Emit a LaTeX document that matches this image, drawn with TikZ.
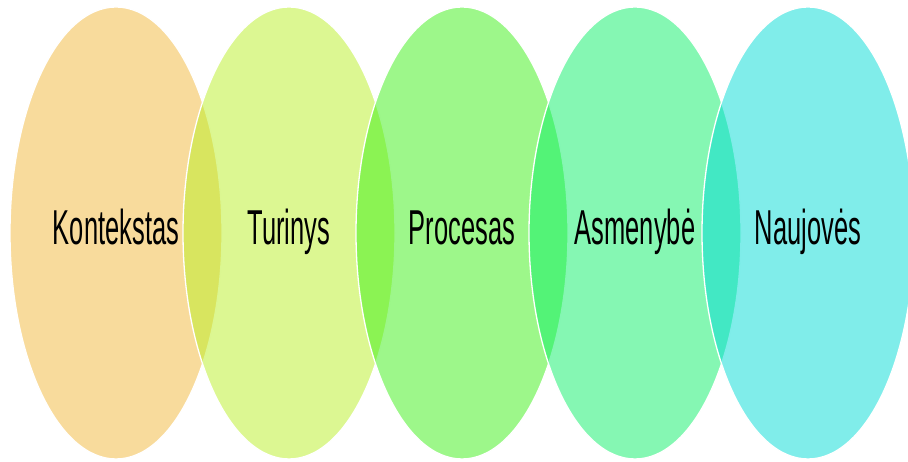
\documentclass[tikz,border=0pt]{standalone}
\usepackage{fontspec}
\usepackage{tikz}
\usetikzlibrary{shapes.geometric}
\newfontfamily\narrowsans[FakeStretch=0.52]{Liberation Sans}
\definecolor{kontcol}{RGB}{241,183,57}
\definecolor{turcol}{RGB}{185,239,37}
\definecolor{proccol}{RGB}{59,239,21}
\definecolor{asmcol}{RGB}{11,239,103}
\definecolor{naucol}{RGB}{1,219,213}
\tikzset{
  bubble/.style={ellipse, draw=white, line width=1.3pt, fill opacity=0.5, draw opacity=1,
    minimum width=212pt, minimum height=452pt, inner sep=0pt},
  lbl/.style={font=\narrowsans\fontsize{49}{49}\selectfont, text=black, anchor=base, inner sep=0pt}
}
\begin{document}
\begin{tikzpicture}[x=1pt, y=1pt]
      \useasboundingbox (0,0) rectangle (908,462);
      % Venn bubbles
      \node[bubble, fill=kontcol] (K) at (116,229) {};
      \node[bubble, fill=turcol] (T) at (289,229) {};
      \node[bubble, fill=proccol] (P) at (462,229) {};
      \node[bubble, fill=asmcol] (A) at (635,229) {};
      \node[bubble, fill=naucol] (N) at (808,229) {};
      % Labels
      \node[lbl] (Klbl) at ([yshift=-12pt]K.center) {Kontekstas};
      \node[lbl] (Tlbl) at ([yshift=-12pt]T.center) {Turinys};
      \node[lbl] (Plbl) at ([yshift=-12pt]P.center) {Procesas};
      \node[lbl] (Albl) at ([yshift=-12pt]A.center) {Asmenybė};
      \node[lbl] (Nlbl) at ([yshift=-12pt]N.center) {Naujovės};
    \end{tikzpicture}
\end{document}
